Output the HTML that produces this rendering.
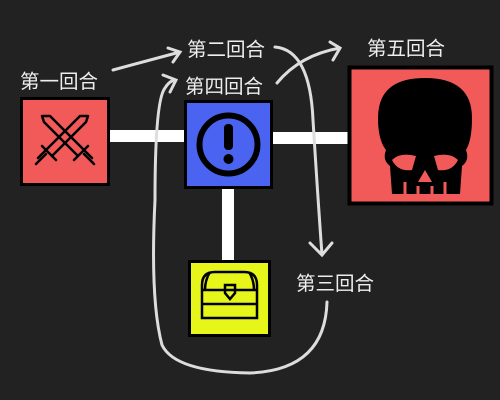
<!DOCTYPE html>
<html><head><meta charset="utf-8"><style>
body{margin:0;background:#222;width:500px;height:400px;overflow:hidden;font-family:"Liberation Sans","Noto Sans CJK SC",sans-serif}
svg{display:block}
text{fill:#eee;font-size:19.5px;font-family:"Liberation Sans","Noto Sans CJK SC",sans-serif}
</style></head><body>
<svg width="500" height="400">
<rect width="500" height="400" fill="#222"/>
<g fill="#fff">
<rect x="108" y="130" width="80" height="12"/>
<rect x="271" y="132" width="80" height="12"/>
<rect x="222" y="186" width="12" height="76"/>
</g>
<g fill="none" stroke="#ddd" stroke-width="3" stroke-linecap="round">
<path d="M113 70 Q150 60 180 52 M168 48 L180 52 L173 62"/>
<path d="M327 302 Q325 370 250 373 Q175 372 162 345 Q150 300 155 200 Q155 100 165 88 Q170 80 176 80 M163 75 L176 80 L170 92"/>
<path d="M275 47 Q310 50 313 120 Q318 200 322 255 M310 243 L322 255 L332 243"/>
<path d="M277 83 Q300 55 340 48 M330 42 L340 48 L333 60"/>
</g>
<g>
<rect x="21.5" y="98.5" width="87" height="86" fill="#f25a5a" stroke="#000" stroke-width="3"/>
<g stroke="#000" stroke-width="2.5" fill="none" stroke-linecap="round" stroke-linejoin="round">
<path d="M42 116 L50 116 L84 150 L78 156 L44 122 Z M36 164 L46 154 M74 160 L88 146 M84 150 L92 158"/>
<path d="M88 116 L80 116 L46 150 L52 156 L86 122 Z M94 164 L84 154 M56 160 L42 146 M46 150 L38 158"/>
</g>
</g>
<g>
<rect x="185.5" y="101.5" width="86" height="86" fill="#4a63f0" stroke="#000" stroke-width="3"/>
<circle cx="228.5" cy="144.5" r="29" fill="none" stroke="#000" stroke-width="6"/>
<rect x="224" y="124" width="9" height="26" rx="4" fill="#000"/>
<circle cx="228.5" cy="159" r="5" fill="#000"/>
</g>
<g>
<rect x="349.5" y="67.5" width="142" height="136" fill="#f25a5a" stroke="#000" stroke-width="4"/>
<path d="M378 118 Q378 78 425 78 Q472 78 472 118 Q472 140 466 150 Q470 160 462 166 L460 194 L392 194 L390 166 Q382 160 386 150 Q378 140 378 118Z" fill="#000"/>
<path d="M392 160 Q400 152 416 156 L412 170 Q398 172 392 160Z M458 160 Q450 152 434 156 L438 170 Q452 172 458 160Z M425 170 L418 182 L432 182Z" fill="#f25a5a"/>
<path d="M405 182 V194 M418 186 V194 M432 186 V194 M445 182 V194" stroke="#f25a5a" stroke-width="3"/>
</g>
<g>
<rect x="189.5" y="261.5" width="80" height="74" fill="#e6f51a" stroke="#000" stroke-width="3"/>
<g stroke="#000" stroke-width="2.5" fill="none">
<path d="M202 318 V285 Q202 272 215 272 H244 Q257 272 257 285 V318 Z"/>
<path d="M202 290 H257 M202 304 H257 M210 272 Q205 280 205 290 M249 272 Q254 280 254 290"/>
<path d="M225 285 h10 v8 l-5 6 l-5 -6z"/>
</g>
</g>
<text x="20" y="88">第一回合</text>
<text x="187" y="56">第二回合</text>
<text x="185" y="93">第四回合</text>
<text x="367" y="55">第五回合</text>
<text x="296" y="290">第三回合</text>
</svg>
</body></html>
